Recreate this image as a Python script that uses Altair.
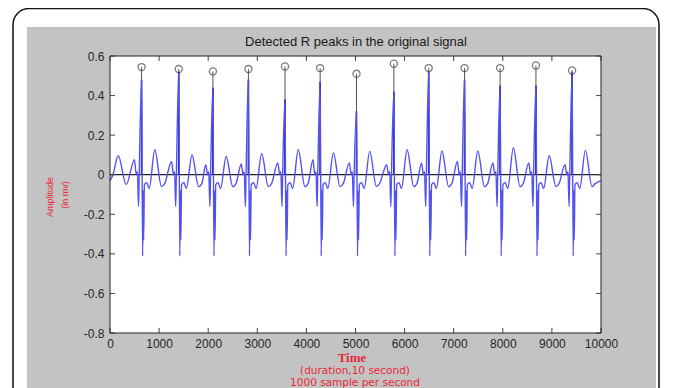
import altair as alt
import pandas as pd

# ---------------- data ----------------
title_text = "Detected R peaks in the original signal"
ytitle_1 = "Amplitude"
ytitle_2 = "(in mv)"
xtitle_1 = "Time"
xtitle_2 = "(duration,10 second)"
xtitle_3 = "1000 sample per second"

x_ticks = [0, 1000, 2000, 3000, 4000, 5000, 6000, 7000, 8000, 9000, 10000]
y_ticks = [-0.8, -0.6, -0.4, -0.2, 0, 0.2, 0.4, 0.6]

# detected R peaks (sample index) and the circle heights
r_times = [643, 1400, 2096, 2819, 3564, 4280, 5020, 5781, 6491, 7221, 7945, 8675, 9412]
r_circle = [0.544, 0.534, 0.522, 0.534, 0.547, 0.539, 0.510, 0.561, 0.539, 0.539, 0.539, 0.552, 0.527]
# visible top of the blue R spike of each beat
r_blue = [0.48, 0.52, 0.44, 0.48, 0.38, 0.47, 0.32, 0.42, 0.52, 0.48, 0.45, 0.45, 0.52]
# P wave height before each R and T wave height after each R
p_heights = [0.076, 0.067, 0.05, 0.054, 0.06, 0.076, 0.06, 0.05, 0.06, 0.067, 0.06, 0.06, 0.05]
t_heights = [0.126, 0.10, 0.092, 0.106, 0.126, 0.11, 0.118, 0.126, 0.12, 0.12, 0.136, 0.096, 0.123]

# start of the record (before the first P wave)
lead_t = [0, 60, 168, 330]
lead_v = [-0.03, 0.0, 0.096, -0.05]
# waveform points around each R (offset in samples, value); None = P / T height of that beat
pre_off = [-145, -108, -85, -62, -50]
pre_val = [None, 0.0, 0.015, -0.16, -0.02]
post_off = [22, 32, 42, 58, 105, 155, 270, 405, 470]
post_val = [-0.41, -0.08, -0.33, -0.05, -0.04, -0.07, None, -0.06, -0.045]
# end of the record
tail_t = [10000]
tail_v = [-0.03]

sig_t, sig_v = list(lead_t), list(lead_v)
for i, rt in enumerate(r_times):
    for o, v in zip(pre_off, pre_val):
        sig_t.append(rt + o)
        sig_v.append(p_heights[i] if v is None else v)
    sig_t.append(rt)
    sig_v.append(r_blue[i])
    for o, v in zip(post_off, post_val):
        sig_t.append(rt + o)
        sig_v.append(t_heights[i] if v is None else v)
sig_t += tail_t
sig_v += tail_v

signal = pd.DataFrame({"t": sig_t, "v": sig_v})
peaks = pd.DataFrame({"t": r_times, "c": r_circle, "b": r_blue, "v": [0] * len(r_times)})
xt = pd.DataFrame({"t": x_ticks})
yt = pd.DataFrame({"v": y_ticks})
zero = pd.DataFrame({"v": [0]})
one = pd.DataFrame({"a": [0]})

# ---------------- layout ----------------
W, H = 491, 277
RED = "#e8283a"
xscale = alt.Scale(domain=[0, 10000], nice=False, zero=False)
yscale = alt.Scale(domain=[-0.8, 0.6], nice=False, zero=False)
xaxis = alt.Axis(values=x_ticks, format="d", ticks=False, domain=False, grid=False,
                 labelFont="Liberation Sans", labelFontSize=12, labelColor="#262626",
                 labelPadding=5, labelFlush=False, labelOverlap=False, title=None, zindex=2)
yaxis = alt.Axis(values=y_ticks, labelExpr="'' + datum.value", ticks=False, domain=False,
                 grid=False, labelFont="Liberation Sans", labelFontSize=12,
                 labelColor="#262626", labelPadding=6, labelFlush=False, labelOverlap=False,
                 title=None, zindex=2)


def X(field):
    return alt.X(field, type="quantitative", scale=xscale, axis=xaxis, title=None)


def Y(field):
    return alt.Y(field, type="quantitative", scale=yscale, axis=yaxis, title=None)


frame = alt.Chart(one).mark_rect(fill="white", stroke="#111", strokeWidth=1.5,
                                 cornerRadius=16).encode(
    x=alt.value(-97), x2=alt.value(549), y=alt.value(-47.5), y2=alt.value(380))
gray = alt.Chart(one).mark_rect(fill="#c3c3c3").encode(
    x=alt.value(-83), x2=alt.value(546), y=alt.value(-29), y2=alt.value(380))
white = alt.Chart(one).mark_rect(fill="white").encode(
    x=alt.value(0), x2=alt.value(W), y=alt.value(0), y2=alt.value(H))

baseline = alt.Chart(zero).mark_rule(color="#222", strokeWidth=1.2).encode(y=Y("v"))

stems = alt.Chart(peaks).mark_rule(color="#555", strokeWidth=1).encode(
    x=X("t"), y=Y("v"), y2="c")
spikes = alt.Chart(peaks).mark_rule(color="#1c1ca8", strokeWidth=1.6).encode(
    x=X("t"), y=Y("v"), y2="b")
line = alt.Chart(signal).mark_line(color="#5252f2", strokeWidth=1.4,
                                   interpolate="monotone").encode(x=X("t"), y=Y("v"))
circles = alt.Chart(peaks).mark_point(shape="circle", filled=False, size=50,
                                      color="#444", strokeWidth=1.3).encode(
    x=X("t"), y=Y("c"))

tick_style = dict(color="#444", strokeWidth=1)
tb = alt.Chart(xt).mark_rule(**tick_style).encode(x=X("t"), y=alt.value(H - 5), y2=alt.value(H))
tt = alt.Chart(xt).mark_rule(**tick_style).encode(x=X("t"), y=alt.value(0), y2=alt.value(5))
tl = alt.Chart(yt).mark_rule(**tick_style).encode(y=Y("v"), x=alt.value(0), x2=alt.value(5))
tr = alt.Chart(yt).mark_rule(**tick_style).encode(y=Y("v"), x=alt.value(W - 5), x2=alt.value(W))

border = alt.Chart(one).mark_rect(fillOpacity=0, stroke="#222", strokeWidth=1).encode(
    x=alt.value(0), x2=alt.value(W), y=alt.value(0), y2=alt.value(H))


def label(txt, x, y, **kw):
    return alt.Chart(one).mark_text(**kw).encode(
        x=alt.value(x), y=alt.value(y), text=alt.value(txt))


t_title = label(title_text, 246, -14, font="Liberation Sans", fontSize=13, color="#1a1a1a")
t_y1 = label(ytitle_1, -60, 141, font="Liberation Sans", fontSize=9, color=RED, angle=270)
t_y2 = label(ytitle_2, -45, 139, font="Liberation Sans", fontSize=9, color=RED, angle=270)
t_x1 = label(xtitle_1, 242, 302, font="Liberation Serif", fontSize=13, fontWeight="bold", color=RED)
t_x2 = label(xtitle_2, 245, 315, font="DejaVu Sans", fontSize=10.5, color=RED)
t_x3 = label(xtitle_3, 245, 326.5, font="DejaVu Sans", fontSize=10.5, color=RED)

chart = alt.layer(
    frame, gray, white, baseline, stems, spikes, line, circles,
    tb, tt, tl, tr, border, t_title, t_y1, t_y2, t_x1, t_x2, t_x3,
).properties(
    width=W, height=H,
    padding={"left": 102, "top": 48, "right": 64, "bottom": 55},
    autosize=alt.AutoSizeParams(type="none"),
    background="white",
).configure_view(strokeWidth=0)

chart.save("out.html", embed_options={"renderer": "svg", "actions": False})
